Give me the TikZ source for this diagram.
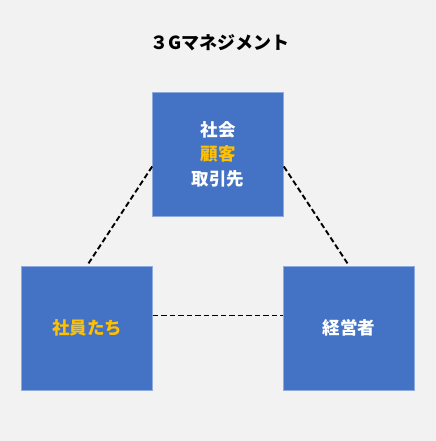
\documentclass[tikz,border=0pt]{standalone}
\usepackage{fontspec}
\newfontfamily\jp{Noto Sans CJK JP}
\usetikzlibrary{calc}
\definecolor{bg}{HTML}{F2F2F2}
\definecolor{boxblue}{HTML}{4472C4}
\definecolor{boxedge}{HTML}{8FAADC}
\definecolor{accent}{HTML}{FFC000}
\tikzset{
  gbox/.style={fill=boxblue, draw=boxedge, line width=0.6bp, minimum width=131bp, minimum height=124bp, inner sep=0pt, text=white, align=center, font=\jp\bfseries\fontsize{17.5bp}{24.5bp}\selectfont},
  link/.style={draw=black, line width=1.9bp, dash pattern=on 5.5bp off 3bp}
}
\begin{document}
\begin{tikzpicture}[x=1bp, y=-1bp]
  \fill[bg] (0,0) rectangle (436,441);
  \useasboundingbox (0,0) rectangle (436,441);
  \node (title) at (220,43) {\jp\bfseries\fontsize{18bp}{22bp}\selectfont ３Gマネジメント};
  \node[gbox] (top) at (218,154) {社会\\\textcolor{accent}{顧客}\\取引先};
  \node[gbox] (left) at (87,328) {\textcolor{accent}{社員たち}};
  \node[gbox] (right) at (349,328) {経営者};
  \draw[link] ($(top.north west)!0.6!(top.south west)$) -- (left.north);
  \draw[link] ($(top.north east)!0.6!(top.south east)$) -- (right.north);
  \draw[link] ($(left.north east)!0.4!(left.south east)$) -- ($(right.north west)!0.4!(right.south west)$);
\end{tikzpicture}
\end{document}
